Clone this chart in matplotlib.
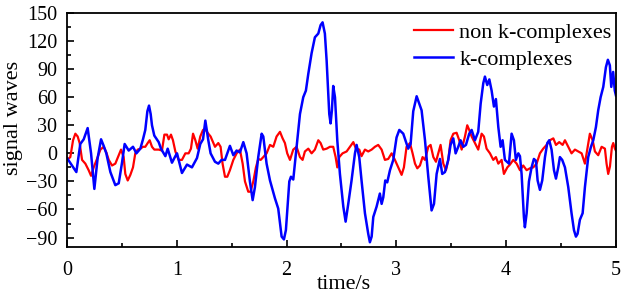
import matplotlib
matplotlib.use("Agg")
import matplotlib.pyplot as plt
from matplotlib.ticker import MultipleLocator

plt.rcParams['font.family'] = ['Liberation Serif', 'DejaVu Serif']

# non k-complexes (red)
t_red = [0.000, 0.030, 0.055, 0.076, 0.097, 0.115, 0.137, 0.167, 0.197, 0.219, 0.243, 0.273, 0.304, 0.334,
         0.358, 0.380, 0.410, 0.440, 0.471, 0.492, 0.516, 0.531, 0.553, 0.577, 0.601, 0.622, 0.644, 0.668,
         0.692, 0.713, 0.735, 0.753, 0.774, 0.795, 0.835, 0.865, 0.887, 0.911, 0.926, 0.947, 0.965, 0.987,
         1.017, 1.047, 1.078, 1.108, 1.129, 1.148, 1.169, 1.190, 1.214, 1.239, 1.257, 1.287, 1.308, 1.348,
         1.378, 1.399, 1.417, 1.439, 1.460, 1.484, 1.515, 1.545, 1.575, 1.600, 1.621, 1.651, 1.672, 1.697,
         1.721, 1.742, 1.764, 1.788, 1.818, 1.849, 1.879, 1.909, 1.940, 1.964, 1.985, 2.006, 2.031, 2.061,
         2.091, 2.122, 2.146, 2.167, 2.198, 2.228, 2.258, 2.289, 2.310, 2.334, 2.365, 2.395, 2.425, 2.447,
         2.462, 2.480, 2.510, 2.547, 2.577, 2.608, 2.632, 2.662, 2.683, 2.714, 2.744, 2.775, 2.805, 2.835,
         2.866, 2.896, 2.926, 2.957, 2.987, 3.017, 3.048, 3.069, 3.093, 3.124, 3.148, 3.170, 3.191, 3.215,
         3.239, 3.261, 3.291, 3.312, 3.337, 3.361, 3.382, 3.403, 3.428, 3.452, 3.473, 3.494, 3.519, 3.549,
         3.573, 3.595, 3.625, 3.646, 3.664, 3.686, 3.716, 3.746, 3.777, 3.798, 3.822, 3.853, 3.883, 3.907,
         3.929, 3.959, 3.980, 4.011, 4.035, 4.065, 4.096, 4.126, 4.156, 4.187, 4.217, 4.247, 4.278, 4.308,
         4.338, 4.369, 4.399, 4.430, 4.454, 4.484, 4.515, 4.536, 4.566, 4.596, 4.627, 4.657, 4.688, 4.718,
         4.739, 4.763, 4.788, 4.809, 4.839, 4.870, 4.900, 4.915, 4.930, 4.946, 4.964, 4.976, 4.991, 5.000]
v_red = [-7, -4, 14, 21, 18, 11, -7, -11, -18, -24, -15, -6, 4, 7,
         1, -7, -13, -11, -2, 4, -4, -22, -29, -23, -15, 0, 4, 5,
         7, 7, 11, 14, 7, 4, 4, 3, 20, 20, 15, 20, 14, 2,
         -7, -7, 0, 0, 5, 21, 14, 5, 18, 25, 26, 21, 18, 7,
         11, 7, -11, -25, -25, -18, -7, 0, 4, -11, -30, -41, -41, -30,
         -15, -6, -7, -4, 0, 9, 7, 18, 23, 16, 11, 0, -7, 4,
         7, -4, -7, 2, 5, 0, 4, 14, 11, 4, 5, 7, 7, -4,
         -15, -4, 0, 2, 7, 12, 5, 4, -3, 4, 2, 4, 7, 9,
         4, -7, -6, 0, -7, -15, -23, -15, 7, 11, 0, -11, -16, -13,
         -4, -7, 7, 9, -4, -9, 0, 9, -11, -18, -7, 14, 21, 22,
         14, 4, 18, 30, 25, 18, 11, 4, 21, 18, 5, 0, -7, -4,
         -11, -7, -22, -15, -12, -7, -11, -18, -13, -18, -16, -15, -11, 0,
         5, 9, 14, 16, 9, 12, 9, 14, 7, 0, 4, 2, 0, -11,
         4, 21, 14, 2, -2, 7, 5, -11, -22, -14, 7, 11, 5, 3]

# k-complexes (blue)
t_blue = [0.000, 0.085, 0.121, 0.152, 0.188, 0.219, 0.249, 0.279, 0.310, 0.334, 0.358, 0.395, 0.440, 0.471,
          0.501, 0.525, 0.562, 0.601, 0.632, 0.668, 0.692, 0.713, 0.732, 0.747, 0.762, 0.774, 0.795, 0.835,
          0.856, 0.896, 0.917, 0.956, 0.987, 1.002, 1.047, 1.093, 1.138, 1.184, 1.214, 1.239, 1.260, 1.287,
          1.308, 1.348, 1.378, 1.408, 1.439, 1.484, 1.515, 1.545, 1.575, 1.606, 1.636, 1.666, 1.691, 1.712,
          1.742, 1.773, 1.788, 1.818, 1.849, 1.894, 1.924, 1.955, 1.976, 1.994, 2.025, 2.040, 2.061, 2.091,
          2.122, 2.152, 2.176, 2.198, 2.228, 2.258, 2.289, 2.310, 2.328, 2.349, 2.365, 2.389, 2.401, 2.413,
          2.425, 2.441, 2.462, 2.486, 2.517, 2.538, 2.562, 2.592, 2.623, 2.638, 2.662, 2.683, 2.714, 2.744,
          2.759, 2.775, 2.790, 2.820, 2.850, 2.866, 2.881, 2.899, 2.917, 2.942, 2.972, 3.002, 3.027, 3.063,
          3.108, 3.130, 3.154, 3.185, 3.230, 3.261, 3.291, 3.321, 3.343, 3.367, 3.397, 3.418, 3.443, 3.473,
          3.494, 3.519, 3.540, 3.564, 3.585, 3.610, 3.634, 3.664, 3.686, 3.716, 3.746, 3.768, 3.792, 3.807,
          3.828, 3.847, 3.868, 3.889, 3.907, 3.929, 3.950, 3.968, 3.989, 4.026, 4.050, 4.071, 4.089, 4.111,
          4.126, 4.141, 4.162, 4.171, 4.187, 4.208, 4.232, 4.253, 4.272, 4.287, 4.308, 4.329, 4.354, 4.375,
          4.393, 4.414, 4.436, 4.454, 4.475, 4.490, 4.511, 4.536, 4.566, 4.596, 4.618, 4.636, 4.651, 4.672,
          4.697, 4.718, 4.748, 4.773, 4.794, 4.818, 4.839, 4.861, 4.885, 4.909, 4.927, 4.945, 4.958, 4.975,
          4.990, 5.000]
v_blue = [-5, -20, 10, 15, 27, 0, -38, -5, 15, 8, 0, -20, -34, -32,
          -10, 10, 3, 7, 0, 5, 15, 25, 45, 51, 42, 30, 19, 12,
          5, -3, 5, -10, -3, 0, -21, -12, -15, -5, 10, 15, 35, 14,
          0, -9, -11, -7, -7, 8, -2, 3, 1, 12, 0, -30, -50, -36,
          -4, 21, 18, -11, -29, -48, -59, -89, -92, -82, -30, -25, -28, 7,
          42, 60, 67, 85, 107, 124, 128, 137, 140, 128, 99, 42, 32, 46,
          72, 60, 14, -22, -57, -73, -54, -29, 0, 9, -4, -29, -64, -86,
          -95, -89, -68, -57, -43, -54, -47, -29, -31, -18, -7, 17, 25, 21,
          5, 10, 45, 61, 46, 14, -25, -61, -54, -22, -6, -22, -20, -7,
          9, 16, 0, 7, 14, 7, 9, 21, 25, 14, 23, 53, 75, 82,
          73, 79, 67, 50, 58, 28, 7, 14, -7, -11, 21, 14, -7, 0,
          -3, -22, -68, -79, -64, -30, -15, -6, -8, -29, -39, -29, -4, 11,
          14, 4, -18, -27, -15, -4, -7, -15, -36, -64, -82, -89, -86, -71,
          -64, -36, -4, 7, 14, 28, 46, 60, 71, 92, 100, 94, 71, 87,
          67, 62]

series_labels = ["non k-complexes", "k-complexes"]
x_ticks = [0, 1, 2, 3, 4, 5]
y_ticks = [-90, -60, -30, 0, 30, 60, 90, 120, 150]

fig = plt.figure(figsize=(6.24, 2.95), dpi=100)
ax = fig.add_axes([0.1074, 0.163, 0.8796, 0.793])

ax.plot(t_red, v_red, color='#ff0000', lw=1.6, label=series_labels[0])
ax.plot(t_blue, v_blue, color='#0000ff', lw=1.8, label=series_labels[1])

ax.set_xlim(0, 5)
ax.set_ylim(-100, 150)
ax.set_xticks(x_ticks)
ax.set_yticks(y_ticks)
ax.xaxis.set_minor_locator(MultipleLocator(0.5))
ax.yaxis.set_minor_locator(MultipleLocator(15))
ax.tick_params(which='both', direction='in', top=False, right=False, labelsize=14.5, width=1.2)
ax.tick_params(which='major', length=5)
ax.tick_params(which='minor', length=3)
ax.tick_params(axis='x', which='major', pad=10)
ax.tick_params(axis='y', which='major', pad=7)
for s in ax.spines.values():
    s.set_linewidth(1.3)

ax.set_xlabel("time/s", fontsize=16)
ax.set_ylabel("signal waves", fontsize=16)
ax.xaxis.set_label_coords(0.505, -0.12)
ax.yaxis.set_label_coords(-0.08, 0.55)

leg = ax.legend(loc='upper right', frameon=False, fontsize=16, handlelength=1.75,
                handletextpad=0.3, labelspacing=0.3, borderaxespad=0.0,
                borderpad=0.2, bbox_to_anchor=(1.0, 0.98))

fig.savefig("out.png", dpi=100)
